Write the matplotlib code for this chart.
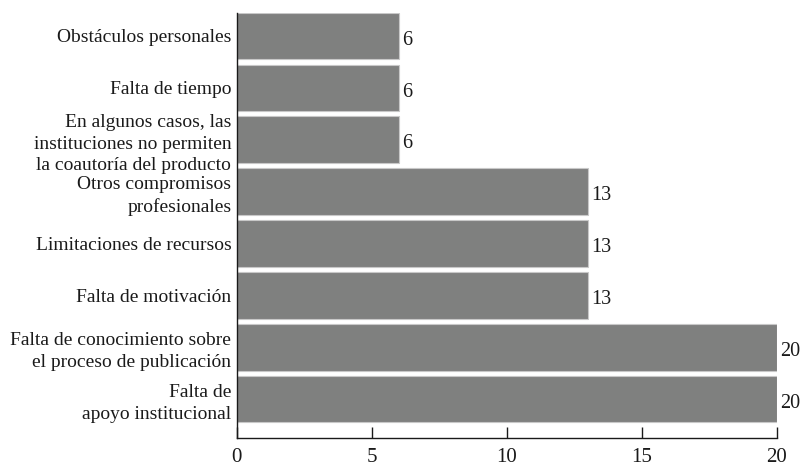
import matplotlib.pyplot as plt

# categorías (de abajo hacia arriba) y número de respuestas
categorias = [
    'Falta de\napoyo institucional',
    'Falta de conocimiento sobre\nel proceso de publicación',
    'Falta de motivación',
    'Limitaciones de recursos',
    'Otros compromisos\nprofesionales',
    'En algunos casos, las\ninstituciones no permiten\nla coautoría del producto',
    'Falta de tiempo',
    'Obstáculos personales',
]
valores = [20, 20, 13, 13, 13, 6, 6, 6]
ticks_x = [0, 5, 10, 15, 20]

plt.rcParams['font.family'] = ['Liberation Serif', 'DejaVu Serif']
texto = '#1a1a1a'

fig = plt.figure(figsize=(8.03, 4.68), dpi=100)
ax = fig.add_axes([0.295, 0.064, 0.6725, 0.909])

pos = list(range(len(categorias)))
ax.barh(pos, valores, height=0.9, color='#7f807f', edgecolor='#c8c8c8', linewidth=0.8)

for y, v in zip(pos, valores):
    ax.text(v + 0.12, y - 0.08, str(v), va='center', ha='left', fontsize=14.5, color=texto)

ax.set_xlim(0, 20)
ax.set_ylim(-0.75, 7.45)
ax.set_yticks(pos)
ax.set_yticklabels(categorias, fontsize=14, color=texto, linespacing=1.35)
ax.tick_params(axis='y', length=0, pad=4)
ax.set_xticks(ticks_x)
ax.tick_params(axis='x', direction='in', length=8, width=1, labelsize=15, colors=texto, pad=7)

for lado in ['top', 'right']:
    ax.spines[lado].set_visible(False)
for lado in ['left', 'bottom']:
    ax.spines[lado].set_color(texto)
    ax.spines[lado].set_linewidth(1)

plt.savefig('out.png', dpi=100)
